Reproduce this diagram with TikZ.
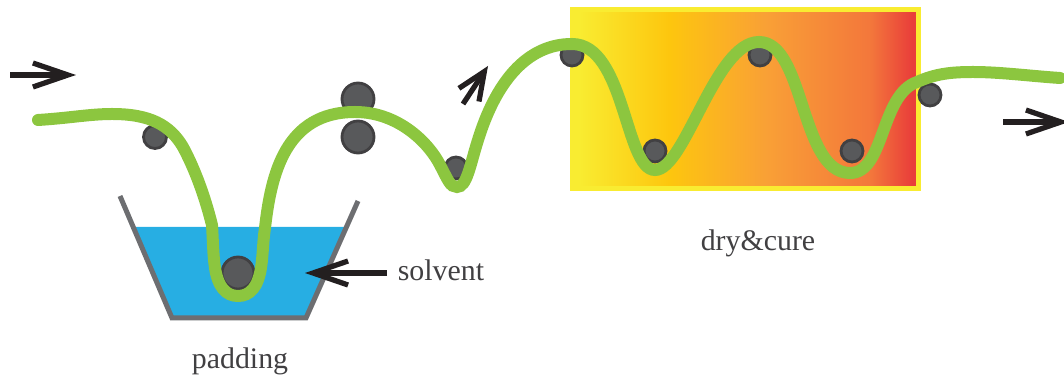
\documentclass[tikz,border=0pt]{standalone}
\usepackage{fontspec}
\setmainfont{Liberation Serif}
\usepackage{xcolor}
\usepackage{tikz}
\usetikzlibrary{arrows.meta,positioning,calc}
\definecolor{fibregreen}{HTML}{8CC63F}
\definecolor{ballgrey}{HTML}{58595B}
\definecolor{ballrim}{HTML}{414042}
\definecolor{bathgrey}{HTML}{6D6E71}
\definecolor{bathblue}{HTML}{27AEE3}
\definecolor{ovenrim}{HTML}{F9EC31}
\definecolor{inkdark}{HTML}{231F20}
\definecolor{heata}{HTML}{FDC60E}
\definecolor{heatb}{HTML}{F9A036}
\definecolor{heatc}{HTML}{F3773B}
\definecolor{heatd}{HTML}{E93E3A}
\pgfdeclarehorizontalshading{ovenheat}{100bp}{
  color(0bp)=(ovenrim); color(26bp)=(ovenrim); color(39bp)=(heata);
  color(53bp)=(heatb); color(68bp)=(heatc); color(74bp)=(heatd); color(100bp)=(heatd)}
\tikzset{
  ball/.style={circle, draw=ballrim, line width=1.6pt, fill=ballgrey, inner sep=0pt, minimum size=#1},
  flow/.style={-{Straight Barb[length=#1, width=0.48cm]}, line width=0.105cm, draw=inkdark},
  flow/.default=0.7cm,
  caption/.style={font=\fontsize{17}{20}\selectfont, text=ballrim, inner sep=0pt},
}
\begin{document}
\begin{tikzpicture}[x=0.02cm, y=-0.02cm]
\useasboundingbox (0,0) rectangle (1064,377);
% bath
\fill[bathblue] (135,227) -- (345,227) -- (306,318) -- (172,318) -- cycle;
\draw[bathgrey, line width=0.1cm] (120,196) -- (172,318) -- (306,318) -- (358,201);
% oven
\shade[shading=ovenheat] (572,9) rectangle (919,189);
\draw[ovenrim, line width=0.1cm] (572.5,9.5) rectangle (918.5,188.5);
% balls
\node[ball=0.46cm] (b1) at (155,137) {};
\node[ball=0.64cm] (b2) at (358,99) {};
\node[ball=0.64cm] (b3) at (358,137) {};
\node[ball=0.64cm] (b4) at (238,273) {};
\node[ball=0.44cm] (b5) at (456,168) {};
\node[ball=0.44cm] (b6) at (572,55) {};
\node[ball=0.44cm] (b7) at (655,151) {};
\node[ball=0.44cm] (b8) at (760,55) {};
\node[ball=0.44cm] (b9) at (852,151) {};
\node[ball=0.44cm] (b10) at (930,95) {};
% fibre
\draw[fibregreen, line width=0.24cm, line cap=round]
  (38,120) .. controls (70,118) and (90,114) .. (112,114)
  .. controls (150,114) and (170,125) .. (183,147)
  .. controls (198,175) and (207,205) .. (212,225)
  .. controls (213,240) and (213,255) .. (215,268)
  .. controls (218,287) and (226,296) .. (238,296)
  .. controls (250,296) and (258,287) .. (261,268)
  .. controls (263,255) and (263,240) .. (265,228)
  .. controls (271,175) and (285,112) .. (355,112)
  .. controls (400,112) and (430,145) .. (440,165)
  .. controls (448,180) and (450,187) .. (457,187)
  .. controls (467,187) and (470,165) .. (478,140)
  .. controls (495,85) and (525,44) .. (572,44)
  .. controls (625,44) and (625,170) .. (655,170)
  .. controls (685,170) and (715,42) .. (759,42)
  .. controls (805,42) and (800,173) .. (850,173)
  .. controls (885,173) and (880,95) .. (917,82)
  .. controls (935,74) and (950,72) .. (973,72)
  .. controls (1000,72) and (1030,76) .. (1060,78);
% arrows
\coordinate (in0) at (10,75);
\coordinate (in1) at (76,75);
\coordinate (up0) at (463,104);
\coordinate (up1) at (488,66);
\coordinate (out0) at (1003,122);
\coordinate (out1) at (1069,122);
\coordinate (sol0) at (387,273);
\coordinate (sol1) at (305,273);
\draw[flow] (in0) -- (in1);
\draw[flow=0.56cm] (up0) -- (up1);
\draw[flow] (out0) -- (out1);
\draw[flow] (sol0) -- (sol1);
% labels
\node[caption] (padding) at (240,361) {padding};
\node[caption] (solvent) at (441,270) {solvent};
\node[caption] (drycure) at (758,243) {dry\&cure};
\end{tikzpicture}
\end{document}
